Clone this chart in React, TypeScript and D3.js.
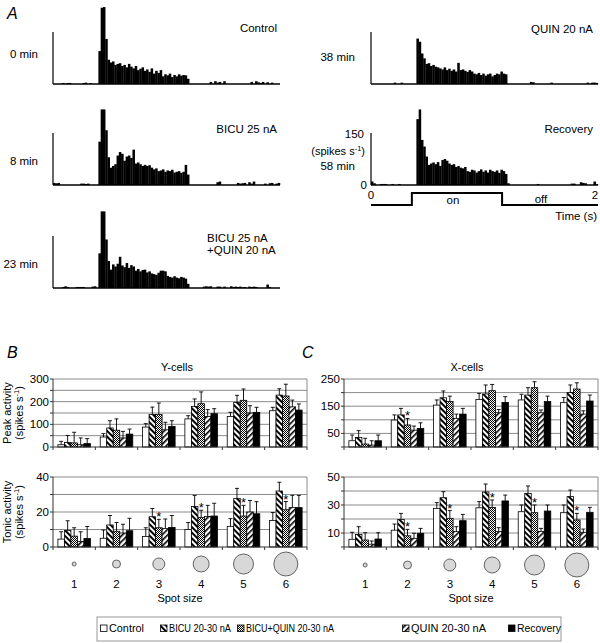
import React from "react";
import * as d3 from "d3";

const FONT = "'Liberation Sans', Arial, Helvetica, sans-serif";

// ---------- Panel A: PSTH data (spikes/s, 100 bins over 2 s) ----------
const histControl = [0,0,0,0,3,0,3,3,0,0,0,0,0,3,4,0,3,0,0,0,
  95,220,222,130,70,62,65,55,58,60,52,55,48,58,50,45,52,40,44,48,38,42,35,45,30,38,32,40,22,28,25,30,20,26,22,28,24,26,25,15,
  0,0,0,0,0,0,0,0,0,6,0,8,4,6,0,8,0,0,0,0,0,0,0,0,0,0,0,6,0,8,5,3,6,0,5,0,4,0,0,0];
const histBicu = [6,5,6,0,0,0,0,0,0,0,0,0,4,4,3,4,0,0,0,0,
  125,218,218,158,80,50,55,60,85,95,90,70,82,85,78,102,62,65,60,55,58,55,57,50,45,48,40,42,45,38,42,40,44,36,38,40,35,38,58,30,
  0,0,0,0,0,0,0,0,0,0,0,0,8,10,0,0,0,0,0,0,0,6,4,5,6,0,8,4,10,0,0,0,0,4,0,5,6,0,4,6];
const histBicuQuin = [0,0,0,0,3,5,3,0,0,0,3,3,3,3,0,0,0,4,5,0,
  100,221,221,140,78,53,68,62,70,90,65,60,72,58,66,62,50,55,48,52,53,45,48,42,40,38,44,50,50,48,35,32,30,34,30,28,32,30,27,12,
  0,0,0,0,0,0,4,5,4,5,0,0,4,4,0,4,0,0,5,3,4,3,4,2,3,0,4,3,4,3,0,0,0,0,10,3,0,0,0,0];
const histQuin = [0,0,0,0,0,0,0,0,0,0,4,0,0,4,0,0,0,0,0,0,
  131,122,88,74,58,60,52,55,50,48,45,42,48,40,44,38,42,36,61,40,42,38,35,40,36,30,28,32,26,30,24,28,30,22,26,30,28,36,30,28,
  0,0,0,0,0,0,0,0,0,0,6,5,0,0,0,0,0,0,0,4,0,0,0,0,0,0,0,0,0,0,0,0,0,0,0,4,0,4,4,3];
const histRecovery = [10,5,0,0,3,3,3,0,0,3,0,0,3,0,0,0,0,0,0,0,
  190,218,130,111,82,58,62,65,60,66,55,72,75,70,62,58,60,52,55,50,48,52,40,38,44,42,36,40,45,38,42,36,44,40,38,42,35,44,40,32,
  5,0,0,0,0,0,0,0,0,0,0,0,0,3,0,0,0,0,0,0,0,0,0,0,0,0,0,0,4,4,0,0,8,6,5,0,0,0,10,3];

const stimTimes = [0, 0.36, 0.36, 1.155, 1.155, 2];
const stimLevels = [0, 0, 1, 1, 0, 0];

// ---------- Panels B & C ----------
const spotSizes = ["1", "2", "3", "4", "5", "6"];
const spotRadii = [2, 4, 6, 8, 10, 12];
const seriesNames = ["Control", "BICU 20-30 nA", "BICU+QUIN 20-30 nA", "QUIN 20-30 nA", "Recovery"];

// Y-cells peak
const yPeakControl = [10, 44, 88, 124, 135, 160];
const yPeakControlErr = [15, 15, 15, 14, 18, 15];
const yPeakBicu = [20, 84, 143, 179, 197, 229];
const yPeakBicuErr = [31, 32, 33, 33, 31, 28];
const yPeakBicuQuin = [18, 74, 143, 191, 206, 225];
const yPeakBicuQuinErr = [47, 50, 51, 52, 50, 52];
const yPeakQuin = [10, 40, 76, 135, 150, 177];
const yPeakQuinErr = [30, 29, 33, 30, 32, 30];
const yPeakRecovery = [15, 57, 91, 147, 153, 163];
const yPeakRecoveryErr = [22, 22, 25, 22, 22, 27];

// Y-cells tonic
const yTonicControl = [4.5, 5, 6, 10, 11.8, 15.2];
const yTonicControlErr = [4.2, 4.7, 5, 4, 4.4, 4.5];
const yTonicBicu = [9.4, 12.6, 17.3, 23.2, 27.8, 32];
const yTonicBicuErr = [5.6, 5.4, 4.7, 6.3, 5.7, 5];
const yTonicBicuQuin = [6.2, 9, 11, 16.8, 17.7, 21.3];
const yTonicBicuQuinErr = [4.8, 5, 4.8, 4.2, 6.1, 4.7];
const yTonicQuin = [3.1, 8, 10.5, 17.5, 20, 22.5];
const yTonicQuinErr = [5.6, 5, 5.5, 6.3, 6.6, 7];
const yTonicRecovery = [4.9, 9.3, 11.2, 17.7, 19, 22.5];
const yTonicRecoveryErr = [6.8, 7.1, 6.8, 7.3, 6.9, 7];

// X-cells peak
const xPeakControl = [23, 99, 154, 175, 173, 163];
const xPeakControlErr = [21, 19, 19, 22, 21, 19];
const xPeakBicu = [35, 118, 181, 195, 191, 200];
const xPeakBicuErr = [25, 24, 25, 33, 27, 28];
const xPeakBicuQuin = [11, 81, 167, 207, 218, 213];
const xPeakBicuQuinErr = [21, 24, 20, 23, 22, 23];
const xPeakQuin = [7, 62, 105, 126, 126, 121];
const xPeakQuinErr = [16, 15, 16, 12, 10, 12];
const xPeakRecovery = [23, 68, 121, 164, 167, 169];
const xPeakRecoveryErr = [21, 21, 21, 21, 20, 22];

// X-cells tonic
const xTonicControl = [5.5, 12, 27.6, 28, 25.2, 24.5];
const xTonicControlErr = [5, 4.4, 4.1, 4.4, 4.8, 5.5];
const xTonicBicu = [9, 19.7, 35.2, 39.3, 38.3, 36];
const xTonicBicuErr = [5.5, 4.3, 4.3, 5.7, 5.3, 4.7];
const xTonicBicuQuin = [5, 8, 20.5, 28.3, 24.5, 19.3];
const xTonicBicuQuinErr = [5.2, 4.6, 5.5, 5.3, 5.5, 4.7];
const xTonicQuin = [2, 6.2, 11, 11, 11, 10.5];
const xTonicQuinErr = [2.3, 3.6, 3.5, 2.8, 2.3, 2.3];
const xTonicRecovery = [5.7, 9.8, 18.8, 32.9, 25.7, 24.8];
const xTonicRecoveryErr = [4.5, 3.5, 4.5, 4.2, 4.3, 3.5];

// significance stars (group indices, placed on BICU+QUIN bar)
const starsYPeak: number[] = [];
const starsYTonic = [2, 3, 4, 5];
const starsXPeak = [1];
const starsXTonic = [1, 2, 3, 4, 5];

const seriesFills = ["#ffffff", "url(#pBicu)", "url(#pBQ)", "url(#pQuin)", "#000000"];

type HistProps = { x0: number; base: number; values: number[] };
function Histogram({ x0, base, values }: HistProps) {
  const x = d3.scaleLinear().domain([0, 2]).range([x0, x0 + 227]);
  const y = d3.scaleLinear().domain([0, 150]).range([base, base - 52]);
  const bw = 2 / values.length;
  const w = x(bw) - x(0);
  return (
    <g>
      {values.map((v, i) =>
        v > 0 ? (
          <rect key={i} x={x(i * bw)} y={y(v)} width={w + 0.25} height={base - y(v)} fill="#000" />
        ) : null
      )}
      <line x1={x(0)} x2={x(0)} y1={y(0)} y2={y(150)} stroke="#000" strokeWidth={1.2} />
      <line x1={x(0)} x2={x(2)} y1={y(0)} y2={y(0)} stroke="#000" strokeWidth={1.4} />
    </g>
  );
}

type BarProps = {
  x0: number; x1: number; yTop: number; yBot: number; max: number; grid: number;
  ticks: number[]; means: number[][]; errs: number[][]; stars: number[];
};
function BarPanel({ x0, x1, yTop, yBot, max, grid, ticks, means, errs, stars }: BarProps) {
  const outer = d3.scaleBand<string>().domain(spotSizes).range([x0, x1]).paddingInner(0).paddingOuter(0);
  const inner = d3.scaleBand<string>().domain(seriesNames).range([0, outer.bandwidth()]).paddingInner(0).paddingOuter(0.75);
  const y = d3.scaleLinear().domain([0, max]).range([yBot, yTop]);
  const gridVals = d3.range(grid, max + 0.001, grid);
  const bw = inner.bandwidth();
  const bqName = seriesNames[2];
  return (
    <g>
      {gridVals.map((v) => (
        <line key={v} x1={x0} x2={x1} y1={y(v)} y2={y(v)} stroke="#8a8a8a" strokeWidth={1} />
      ))}
      <line x1={x1} x2={x1} y1={yTop} y2={yBot} stroke="#8a8a8a" />
      {spotSizes.map((g, gi) => (
        <g key={g}>
          {seriesNames.map((s, si) => {
            const bx = (outer(g) as number) + (inner(s) as number);
            const m = means[si][gi];
            const top = y(m + errs[si][gi]);
            const cx = bx + bw / 2;
            return (
              <g key={s}>
                <line x1={cx} x2={cx} y1={y(m)} y2={top} stroke="#000" strokeWidth={0.9} />
                <line x1={cx - 2} x2={cx + 2} y1={top} y2={top} stroke="#000" strokeWidth={0.9} />
                <rect x={bx} y={y(m)} width={bw} height={yBot - y(m)} fill={seriesFills[si]} stroke="#000" strokeWidth={0.8} />
              </g>
            );
          })}
        </g>
      ))}
      {stars.map((gi) => {
        const cx = (outer(spotSizes[gi]) as number) + (inner(bqName) as number) + bw / 2;
        const top = y(means[2][gi] + errs[2][gi]);
        return (
          <text key={gi} x={cx} y={top + 2} textAnchor="middle" fontSize={13} fontFamily={FONT}>*</text>
        );
      })}
      <line x1={x0} x2={x0} y1={yTop} y2={yBot} stroke="#333" strokeWidth={1} />
      {gridVals.concat([0]).map((v) => (
        <line key={"t" + v} x1={x0 - 3} x2={x0} y1={y(v)} y2={y(v)} stroke="#333" />
      ))}
      {ticks.map((v) => (
        <text key={"l" + v} x={x0 - 4} y={y(v) + 4} textAnchor="end" fontSize={11.5} fontFamily={FONT}>{v}</text>
      ))}
      <line x1={x0} x2={x1} y1={yBot} y2={yBot} stroke="#333" strokeWidth={1} />
      {spotSizes.concat(["end"]).map((g, i) => {
        const tx = x0 + i * outer.step();
        return <line key={"x" + i} x1={tx} x2={tx} y1={yBot} y2={yBot + 3} stroke="#333" />;
      })}
    </g>
  );
}

function SpotRow({ x0, x1, cy, ny, sy }: { x0: number; x1: number; cy: number; ny: number; sy: number }) {
  const outer = d3.scaleBand<string>().domain(spotSizes).range([x0, x1]);
  return (
    <g>
      {spotSizes.map((g, i) => {
        const cx = (outer(g) as number) + outer.bandwidth() / 2;
        return (
          <g key={g}>
            <circle cx={cx} cy={cy} r={spotRadii[i]} fill="#d8d8d8" stroke="#555" strokeWidth={0.9} />
            <text x={cx} y={ny} textAnchor="middle" fontSize={11.5} fontFamily={FONT}>{g}</text>
          </g>
        );
      })}
      <text x={(x0 + x1) / 2} y={sy} textAnchor="middle" fontSize={11} fontFamily={FONT}>Spot size</text>
    </g>
  );
}

function SpikesLabel({ x, y, anchor, rotate }: { x: number; y: number; anchor: string; rotate?: boolean }) {
  return (
    <text x={x} y={y} textAnchor={anchor} fontSize={11} fontFamily={FONT}
      transform={rotate ? `rotate(-90 ${x} ${y})` : undefined}>
      (spikes s<tspan dy={-4} fontSize={7.5}>-1</tspan><tspan dy={4}>)</tspan>
    </text>
  );
}

export default function App() {
  const stimX = d3.scaleLinear().domain([0, 2]).range([371, 598]);
  const stimY = d3.scaleLinear().domain([0, 1]).range([205, 193]);
  const stimLine = d3.line<number>().x((_, i) => stimX(stimTimes[i])).y((d) => stimY(d));

  const t = (s: string, x: number, y: number, anchor = "start", size = 11.5) => (
    <text x={x} y={y} textAnchor={anchor} fontSize={size} fontFamily={FONT}>{s}</text>
  );

  const legendX = [100, 160, 237, 402, 508];
  const legendW = [35, 62, 88, 75, 44];

  return (
    <svg width={600} height={643} style={{ position: "absolute", left: 0, top: 0, background: "#fff" }}>
      <defs>
        <pattern id="pBicu" width={4} height={4} patternUnits="userSpaceOnUse" patternTransform="rotate(45)">
          <rect width={4} height={4} fill="#fff" />
          <rect width={4} height={2} fill="#000" />
        </pattern>
        <pattern id="pQuin" width={4} height={4} patternUnits="userSpaceOnUse" patternTransform="rotate(-45)">
          <rect width={4} height={4} fill="#fff" />
          <rect width={4} height={1.6} fill="#000" />
        </pattern>
        <pattern id="pBQ" width={2} height={2} patternUnits="userSpaceOnUse">
          <rect width={2} height={2} fill="#fff" />
          <rect width={1} height={1} fill="#000" />
          <rect x={1} y={1} width={1} height={1} fill="#000" />
        </pattern>
      </defs>
      <rect width={600} height={643} fill="#fff" />

      {/* Panel A */}
      <text x={7} y={19} fontSize={16} fontStyle="italic" fontFamily={FONT}>A</text>
      <Histogram x0={53} base={84} values={histControl} />
      <Histogram x0={53} base={185} values={histBicu} />
      <Histogram x0={53} base={288} values={histBicuQuin} />
      <Histogram x0={371} base={84} values={histQuin} />
      <Histogram x0={371} base={185} values={histRecovery} />
      {t("Control", 277, 32, "end")}
      {t("0 min", 38, 58, "end")}
      {t("BICU 25 nA", 277, 133, "end")}
      {t("8 min", 38, 165, "end")}
      {t("BICU 25 nA", 207, 242)}
      {t("+QUIN 20 nA", 207, 254)}
      {t("23 min", 38, 268, "end")}
      {t("QUIN 20 nA", 593, 33, "end")}
      {t("38 min", 355, 61, "end")}
      {t("Recovery", 593, 133, "end")}
      {t("150", 364, 138, "end")}
      <SpikesLabel x={365} y={155} anchor="end" />
      {t("58 min", 355, 170, "end")}
      {t("0", 367, 189, "end")}
      <path d={stimLine(stimLevels) as string} fill="none" stroke="#000" strokeWidth={2} />
      {t("0", 371, 199, "middle")}
      {t("2", 595, 199, "middle")}
      {t("on", 453, 204, "middle")}
      {t("off", 541, 203, "middle")}
      {t("Time (s)", 597, 220, "end")}

      {/* Panel B */}
      <text x={7} y={358} fontSize={16} fontStyle="italic" fontFamily={FONT}>B</text>
      {t("Y-cells", 177, 371, "middle", 11)}
      <BarPanel x0={53} x1={307} yTop={379} yBot={447} max={300} grid={50} ticks={[0, 100, 200, 300]}
        means={[yPeakControl, yPeakBicu, yPeakBicuQuin, yPeakQuin, yPeakRecovery]}
        errs={[yPeakControlErr, yPeakBicuErr, yPeakBicuQuinErr, yPeakQuinErr, yPeakRecoveryErr]}
        stars={starsYPeak} />
      <BarPanel x0={53} x1={307} yTop={477} yBot={547} max={40} grid={10} ticks={[0, 20, 40]}
        means={[yTonicControl, yTonicBicu, yTonicBicuQuin, yTonicQuin, yTonicRecovery]}
        errs={[yTonicControlErr, yTonicBicuErr, yTonicBicuQuinErr, yTonicQuinErr, yTonicRecoveryErr]}
        stars={starsYTonic} />
      <text x={11} y={413} textAnchor="middle" fontSize={11} fontFamily={FONT} transform="rotate(-90 11 413)">Peak activity</text>
      <SpikesLabel x={23} y={413} anchor="middle" rotate />
      <text x={11} y={512} textAnchor="middle" fontSize={11} fontFamily={FONT} transform="rotate(-90 11 512)">Tonic activity</text>
      <SpikesLabel x={23} y={512} anchor="middle" rotate />
      <SpotRow x0={53} x1={307} cy={564} ny={588} sy={602} />

      {/* Panel C */}
      <text x={302} y={358} fontSize={16} fontStyle="italic" fontFamily={FONT}>C</text>
      {t("X-cells", 467, 371, "middle", 11)}
      <BarPanel x0={344} x1={598} yTop={379} yBot={447} max={250} grid={50} ticks={[50, 150, 250]}
        means={[xPeakControl, xPeakBicu, xPeakBicuQuin, xPeakQuin, xPeakRecovery]}
        errs={[xPeakControlErr, xPeakBicuErr, xPeakBicuQuinErr, xPeakQuinErr, xPeakRecoveryErr]}
        stars={starsXPeak} />
      <BarPanel x0={344} x1={598} yTop={477} yBot={547} max={50} grid={10} ticks={[10, 30, 50]}
        means={[xTonicControl, xTonicBicu, xTonicBicuQuin, xTonicQuin, xTonicRecovery]}
        errs={[xTonicControlErr, xTonicBicuErr, xTonicBicuQuinErr, xTonicQuinErr, xTonicRecoveryErr]}
        stars={starsXTonic} />
      <SpotRow x0={344} x1={598} cy={565} ny={588} sy={602} />

      {/* Legend */}
      <rect x={97} y={617} width={464} height={24} fill="none" stroke="#999" strokeWidth={1} />
      {seriesNames.map((s, i) => (
        <g key={s}>
          <rect x={legendX[i] + 0.5} y={625} width={6.5} height={6.5} fill={seriesFills[i]} stroke="#000" strokeWidth={0.8} />
          <text x={legendX[i] + 9} y={632} fontSize={10.5} fontFamily={FONT}
            textLength={legendW[i]} lengthAdjust="spacingAndGlyphs">{s}</text>
        </g>
      ))}
    </svg>
  );
}
